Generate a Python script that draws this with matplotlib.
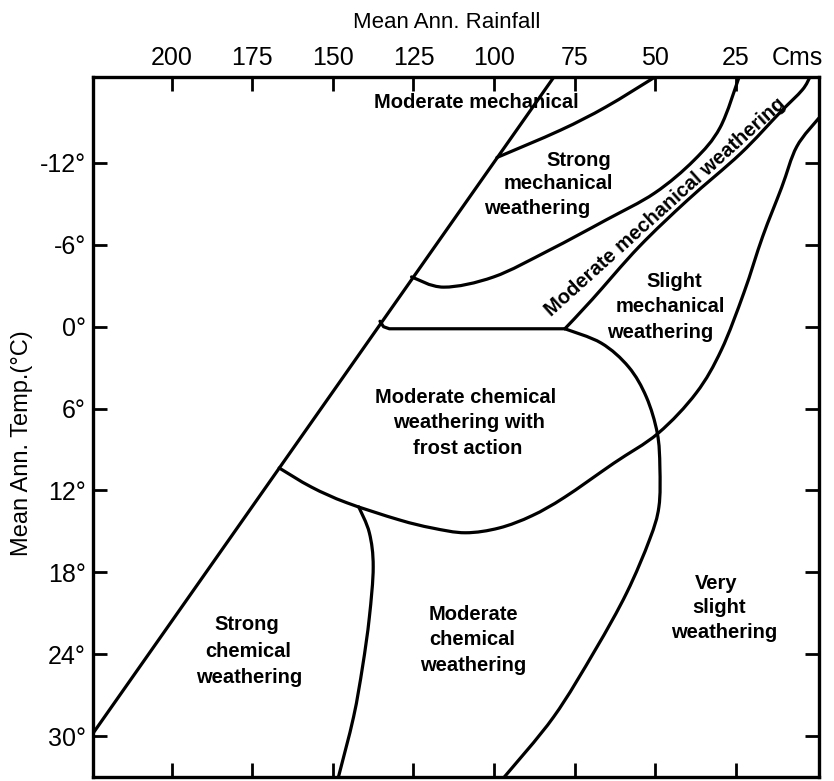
import numpy as np
import matplotlib.pyplot as plt
from matplotlib.path import Path
from matplotlib.patches import PathPatch

plt.rcParams['font.family'] = ['Liberation Sans', 'DejaVu Sans']

# Axis ticks
rain_ticks = [200, 175, 150, 125, 100, 75, 50, 25]
temp_ticks = [-12, -6, 0, 6, 12, 18, 24, 30]
temp_labels = ['-12°', '-6°', '0°', '6°', '12°', '18°', '24°', '30°']

# Boundary lines (rainfall cm, temperature °C)
main_x = [224.5, 81.4]
main_y = [29.8, -18.3]

zero_x = [135.4, 134.3, 132.5, 78.0]
zero_y = [-0.4, 0.0, 0.15, 0.15]

top_x = [99.1, 79.4, 65.3, 50.0]
top_y = [-12.4, -14.4, -16.1, -18.3]

strong_x = [125.6, 115.6, 100.1, 82.9, 65.4, 50.1, 37.9, 29.8, 23.9]
strong_y = [-3.65, -2.9, -3.65, -5.6, -7.8, -9.8, -12.2, -14.6, -18.3]

band_x = [78.0, 69.5, 55.0, 39.8, 23.4, 11.2, 4.3, 1.9]
band_y = [0.15, -2.0, -5.85, -9.3, -12.7, -15.7, -17.35, -18.3]

frost_x = [166.7, 156.7, 145.7, 129.5, 119.2, 108.9, 98.4, 88.2, 78.1, 62.8,
           49.0, 37.2, 29.4, 22.4, 16.6, 10.7, 6.0, -0.9]
frost_y = [10.35, 11.75, 12.9, 14.15, 14.75, 15.1, 14.75, 13.85, 12.5, 10.0,
           7.8, 4.85, 1.7, -2.5, -6.6, -10.2, -13.2, -15.3]

arc_x = [78.0, 66.7, 58.2, 52.7, 49.3, 48.5, 48.8, 51.7, 58.8, 68.6, 81.5, 96.8]
arc_y = [0.15, 1.2, 2.95, 5.15, 7.8, 10.3, 13.2, 15.6, 19.5, 23.7, 28.6, 33.0]

split_x = [142.0, 138.7, 137.5, 138.7, 140.8, 143.6, 148.3]
split_y = [13.2, 15.1, 17.6, 21.3, 24.9, 28.6, 33.0]


def smooth_path(xs, ys):
    # Catmull-Rom through the points, drawn as cubic Bezier segments
    pts = np.column_stack([xs, ys]).astype(float)
    if len(pts) < 3:
        return Path(pts)
    padded = np.vstack([pts[0], pts, pts[-1]])
    verts = [pts[0]]
    codes = [Path.MOVETO]
    for i in range(1, len(padded) - 2):
        p0, p1, p2, p3 = padded[i - 1:i + 3]
        verts += [p1 + (p2 - p0) / 6, p2 - (p3 - p1) / 6, p2]
        codes += [Path.CURVE4] * 3
    return Path(verts, codes)


fig = plt.figure(figsize=(8.34, 7.81), dpi=100)
ax = fig.add_axes([0.1115, 0.0051, 0.8705, 0.8963])

ax.set_xlim(224.5, -0.9)
ax.set_ylim(33.0, -18.3)

for xs, ys in [(main_x, main_y), (top_x, top_y),
               (strong_x, strong_y), (band_x, band_y), (frost_x, frost_y),
               (arc_x, arc_y), (split_x, split_y)]:
    ax.add_patch(PathPatch(smooth_path(xs, ys), fill=False, lw=2.3,
                           edgecolor='black', capstyle='round',
                           joinstyle='round', transform=ax.transData))

# the 0° line is nearly straight, with a short hook at the left end
ax.plot(zero_x, zero_y, color='black', lw=2.3, solid_joinstyle='round',
        solid_capstyle='round')

# Axes styling
for s in ax.spines.values():
    s.set_linewidth(2.4)
ax.xaxis.set_ticks_position('both')
ax.xaxis.set_label_position('top')
ax.set_xticks(rain_ticks)
ax.set_xticklabels([str(t) for t in rain_ticks])
ax.tick_params(axis='x', which='both', direction='in', length=10, width=2,
               top=True, bottom=True, labeltop=True, labelbottom=False,
               labelsize=18, pad=5)
ax.set_yticks(temp_ticks)
ax.set_yticklabels(temp_labels)
ax.tick_params(axis='y', direction='in', length=10, width=2,
               left=True, right=True, labelleft=True, labelright=False,
               labelsize=18, pad=5)

ax.annotate('Cms', xy=(5.9, 1), xycoords=ax.get_xaxis_transform(),
            xytext=(0, 5), textcoords='offset points',
            ha='center', va='bottom', fontsize=18)

fig.text(447 / 834, 1 - 22 / 781, 'Mean Ann. Rainfall', ha='center',
         va='center', fontsize=16)
fig.text(22 / 834, 1 - 443 / 781, 'Mean Ann. Temp.(°C)', ha='center',
         va='center', rotation=90, fontsize=17)

# Region labels
lab = dict(ha='center', va='center', fontsize=14.5, fontweight='bold')
ax.text(105.4, -16.4, 'Moderate mechanical', **lab)
ax.text(73.6, -12.2, 'Strong', **lab)
ax.text(80.0, -10.5, 'mechanical', **lab)
ax.text(86.6, -8.7, 'weathering', **lab)
ax.text(46.9, -8.8, 'Moderate mechanical weathering', rotation=42,
        rotation_mode='anchor', **lab)
ax.text(44.2, -3.3, 'Slight', **lab)
ax.text(45.2, -1.45, 'mechanical', **lab)
ax.text(48.5, 0.4, 'weathering', **lab)
ax.text(108.9, 5.2, 'Moderate chemical', **lab)
ax.text(107.8, 7.0, 'weathering with', **lab)
ax.text(108.2, 8.9, 'frost action', **lab)
ax.text(106.4, 21.1, 'Moderate', **lab)
ax.text(106.9, 22.95, 'chemical', **lab)
ax.text(106.4, 24.8, 'weathering', **lab)
ax.text(176.9, 21.85, 'Strong', **lab)
ax.text(176.4, 23.8, 'chemical', **lab)
ax.text(175.9, 25.7, 'weathering', **lab)
ax.text(30.9, 18.8, 'Very', **lab)
ax.text(30.1, 20.6, 'slight', **lab)
ax.text(28.4, 22.4, 'weathering', **lab)

fig.savefig('out.png', dpi=100)
